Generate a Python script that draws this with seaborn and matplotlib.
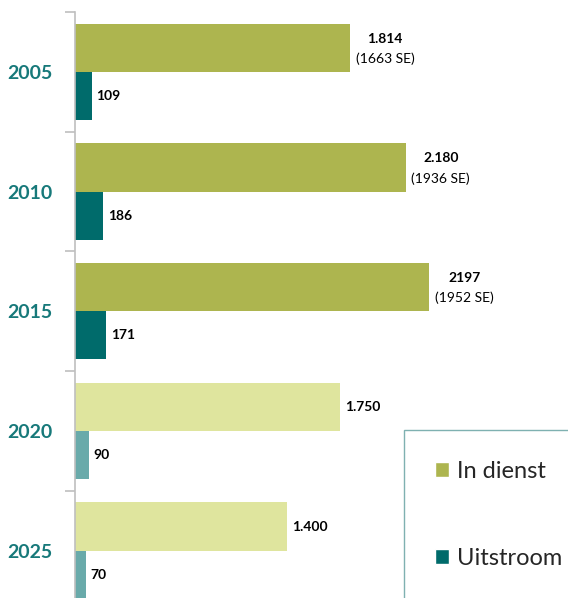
import pandas as pd
import matplotlib.pyplot as plt
import seaborn as sns
from matplotlib.patches import Patch
from matplotlib.ticker import FixedLocator

# values (bar lengths) and the printed labels
years = ['2005', '2010', '2015', '2020', '2025']
in_dienst = [1814, 2180, 2335, 1750, 1400]
uitstroom = [109, 186, 204, 90, 70]
in_dienst_labels = ['1.814', '2.180', '2197', '1.750', '1.400']
se_labels = ['(1663 SE)', '(1936 SE)', '(1952 SE)', None, None]
uitstroom_labels = ['109', '186', '171', '90', '70']
prognose = [False, False, False, True, True]

olive, olive_light = '#adb54f', '#dfe59e'
teal, teal_light = '#006b6b', '#69aaaa'

df = pd.DataFrame({
    'jaar': years * 2,
    'reeks': ['In dienst'] * 5 + ['Uitstroom'] * 5,
    'aantal': in_dienst + uitstroom,
})

sns.set_theme(style='white')
plt.rcParams['font.family'] = ['Lato', 'DejaVu Sans']

fig = plt.figure(figsize=(5.68, 5.98), dpi=100)
ax = fig.add_axes([75 / 568, 1 - 610.5 / 598, 493 / 568, 598.5 / 598])

sns.barplot(data=df, y='jaar', x='aantal', hue='reeks', orient='h',
            palette=[olive, teal], width=0.806, legend=False, ax=ax,
            saturation=1)

# lighter colours for the forecast years
for cont, (dark, light) in zip(ax.containers, [(olive, olive_light), (teal, teal_light)]):
    for bar, p in zip(cont, prognose):
        bar.set_facecolor(light if p else dark)
        bar.set_edgecolor('none')

ax.set_xlim(0, 493 / 0.1517)
ax.set_ylim(4.5, -0.5)
ax.set_xlabel('')
ax.set_ylabel('')
ax.set_xticks([])

for s in ['top', 'right', 'bottom']:
    ax.spines[s].set_visible(False)
ax.spines['left'].set_color('#bfbfbf')
ax.spines['left'].set_linewidth(1.2)

ax.yaxis.set_minor_locator(FixedLocator([-0.5, 0.5, 1.5, 2.5, 3.5, 4.5]))
ax.tick_params(axis='y', which='minor', length=7, color='#bfbfbf', width=1.2, left=True)
ax.tick_params(axis='y', which='major', length=0, pad=16)
for lbl in ax.get_yticklabels():
    lbl.set_fontsize(14)
    lbl.set_fontweight('bold')
    lbl.set_color('#17797a')

# value labels
bars_in, bars_out = ax.containers[0], ax.containers[1]
for bar, lab, se in zip(bars_in, in_dienst_labels, se_labels):
    x = bar.get_width()
    y = bar.get_y() + bar.get_height() / 2
    if se:
        ax.annotate(lab, (x, y), xytext=(35, 9), textcoords='offset pixels',
                    ha='center', va='center', fontsize=10, fontweight='bold', color='black')
        ax.annotate(se, (x, y), xytext=(35, -11), textcoords='offset pixels',
                    ha='center', va='center', fontsize=10, color='black')
    else:
        ax.annotate(lab, (x, y), xytext=(5, 0), textcoords='offset pixels',
                    ha='left', va='center', fontsize=10, fontweight='bold', color='black')
for bar, lab in zip(bars_out, uitstroom_labels):
    x = bar.get_width()
    y = bar.get_y() + bar.get_height() / 2
    ax.annotate(lab, (x, y), xytext=(5, 0), textcoords='offset pixels',
                ha='left', va='center', fontsize=10, fontweight='bold', color='black')

handles = [Patch(facecolor=olive, label='In dienst'), Patch(facecolor=teal, label='Uitstroom')]
leg = fig.legend(handles=handles, loc='upper left', bbox_to_anchor=(404 / 568, 1 - 430 / 598),
                 bbox_transform=fig.transFigure, borderaxespad=0, fontsize=17,
                 frameon=True, fancybox=False, edgecolor='#5f9e9e', borderpad=1.3,
                 labelspacing=2.8, handlelength=0.6, handleheight=0.6, handletextpad=0.35)
leg.get_frame().set_linewidth(1.0)

fig.savefig('out.png', dpi=100)
